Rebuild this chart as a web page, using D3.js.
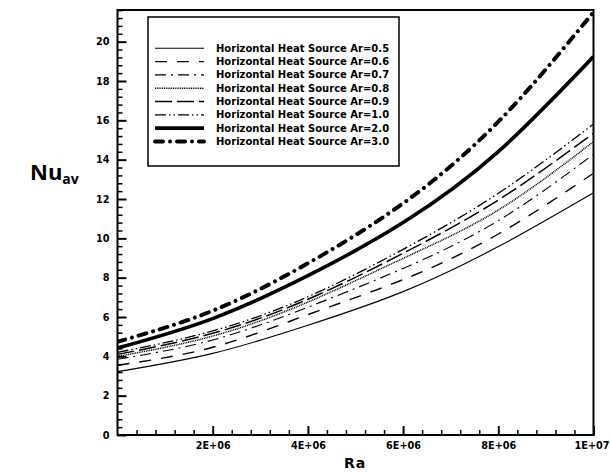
<!DOCTYPE html>
<html>
<head>
<meta charset="utf-8">
<script src="https://cdn.jsdelivr.net/npm/d3@7"></script>
<style>
  html, body { margin: 0; padding: 0; background: #fff; }
  svg { display: block; }
  .tick text { font-family: "DejaVu Sans", sans-serif; font-weight: bold; font-size: 9.7px; fill: #000; }
</style>
</head>
<body>
<svg id="chart" width="610" height="473"></svg>
<script>
// Rayleigh numbers at which the average Nusselt number is sampled
const raValues = [0, 2e6, 4e6, 6e6, 8e6, 1e7];

// Average Nusselt number for each heat-source aspect ratio
const nuAr05 = [3.22, 4.15, 5.58, 7.29, 9.58, 12.32];
const nuAr06 = [3.55, 4.46, 6.12, 7.90, 10.22, 13.31];
const nuAr07 = [3.85, 4.83, 6.50, 8.47, 10.90, 14.27];
const nuAr08 = [4.00, 5.03, 6.76, 8.98, 11.44, 14.92];
const nuAr09 = [4.10, 5.17, 6.90, 9.24, 11.95, 15.34];
const nuAr10 = [4.20, 5.29, 7.03, 9.44, 12.29, 15.81];
const nuAr20 = [4.42, 5.92, 8.10, 10.80, 14.41, 19.24];
const nuAr30 = [4.74, 6.32, 8.73, 11.78, 15.93, 21.50];

const seriesLabels = [
  "Horizontal Heat Source Ar=0.5",
  "Horizontal Heat Source Ar=0.6",
  "Horizontal Heat Source Ar=0.7",
  "Horizontal Heat Source Ar=0.8",
  "Horizontal Heat Source Ar=0.9",
  "Horizontal Heat Source Ar=1.0",
  "Horizontal Heat Source Ar=2.0",
  "Horizontal Heat Source Ar=3.0"
];
const seriesValues = [nuAr05, nuAr06, nuAr07, nuAr08, nuAr09, nuAr10, nuAr20, nuAr30];

const xTickValues = [2e6, 4e6, 6e6, 8e6, 1e7];
const xTickLabels = ["2E+06", "4E+06", "6E+06", "8E+06", "1E+07"];
const yTickValues = [0, 2, 4, 6, 8, 10, 12, 14, 16, 18, 20];

// Line styles, one per series
const styles = [
  { w: 1.1, dash: null, cap: "butt" },
  { w: 1.4, dash: "12,10", cap: "butt" },
  { w: 1.1, dash: "11,5,2,5", cap: "butt" },
  { w: 1.5, dash: "1,0.8", cap: "butt" },
  { w: 1.5, dash: "17,5", cap: "butt" },
  { w: 1.3, dash: "11,3,1.5,3,1.5,3", cap: "butt" },
  { w: 3.6, dash: null, cap: "butt" },
  { w: 4.0, dash: "8,7,0.01,7", cap: "round" }
];

const svg = d3.select("#chart");
const plotLeft = 117.5, plotRight = 593.5, plotTop = 10, plotBottom = 435;

const x = d3.scaleLinear().domain([0, 1e7]).range([plotLeft, plotRight]);
const y = d3.scaleLinear().domain([0, 21.61]).range([plotBottom, plotTop]);

// Minor ticks
const yMinor = d3.range(0, 21.61 + 1e-9, 0.4).map(v => +v.toFixed(2)).filter(v => Math.abs(v / 2 - Math.round(v / 2)) > 1e-6);
const xMinor = d3.range(0, 1e7 + 1, 4e5).filter(v => v % 2e6 !== 0);

svg.append("g")
  .attr("transform", `translate(${plotLeft},0)`)
  .call(d3.axisLeft(y).tickValues(yMinor).tickSize(-5).tickFormat(""))
  .call(g => g.select(".domain").remove())
  .call(g => g.selectAll("line").attr("stroke", "#000").attr("stroke-width", 1.5));

svg.append("g")
  .attr("transform", `translate(${plotLeft},0)`)
  .call(d3.axisLeft(y).tickValues(yTickValues).tickSize(-9).tickPadding(8).tickFormat(d3.format("d")))
  .call(g => g.select(".domain").remove())
  .call(g => g.selectAll("line").attr("stroke", "#000").attr("stroke-width", 2));

svg.append("g")
  .attr("transform", `translate(0,${plotBottom})`)
  .call(d3.axisBottom(x).tickValues(xMinor).tickSize(-5).tickFormat(""))
  .call(g => g.select(".domain").remove())
  .call(g => g.selectAll("line").attr("stroke", "#000").attr("stroke-width", 1.5));

svg.append("g")
  .attr("transform", `translate(0,${plotBottom})`)
  .call(d3.axisBottom(x).tickValues(xTickValues).tickSize(-9).tickPadding(7)
    .tickFormat((d, i) => xTickLabels[i]))
  .call(g => g.select(".domain").remove())
  .call(g => g.selectAll("line").attr("stroke", "#000").attr("stroke-width", 2))
  // the last label sits against the right edge of the page
  .call(g => g.selectAll(".tick").filter(d => d === 1e7).select("text")
    .attr("text-anchor", "end").attr("x", 609 - plotRight));

// Curves
const line = d3.line()
  .x((d, i) => x(raValues[i]))
  .y(d => y(d))
  .curve(d3.curveNatural);

const plot = svg.append("g");
plot.append("clipPath").attr("id", "clip")
  .append("rect").attr("x", plotLeft).attr("y", plotTop)
  .attr("width", plotRight - plotLeft).attr("height", plotBottom - plotTop);

seriesValues.forEach((vals, i) => {
  const s = styles[i];
  plot.append("path")
    .attr("d", line(vals))
    .attr("fill", "none")
    .attr("stroke", "#000")
    .attr("stroke-width", s.w)
    .attr("stroke-dasharray", s.dash)
    .attr("stroke-linecap", s.cap)
    .attr("clip-path", "url(#clip)");
});

// Plot frame
svg.append("rect")
  .attr("x", plotLeft).attr("y", plotTop)
  .attr("width", plotRight - plotLeft).attr("height", plotBottom - plotTop)
  .attr("fill", "none").attr("stroke", "#000").attr("stroke-width", 2);

// Legend
const legend = svg.append("g");
legend.append("rect")
  .attr("x", 148).attr("y", 17).attr("width", 251).attr("height", 149)
  .attr("fill", "#fff").attr("stroke", "#000").attr("stroke-width", 1.5);

seriesLabels.forEach((label, i) => {
  const s = styles[i];
  const ly = 48.3 + i * 13.3;
  legend.append("line")
    .attr("x1", 155).attr("x2", 204).attr("y1", ly).attr("y2", ly)
    .attr("stroke", "#000")
    .attr("stroke-width", s.w)
    .attr("stroke-dasharray", s.dash)
    .attr("stroke-linecap", s.cap);
  legend.append("text")
    .attr("x", 216).attr("y", ly)
    .attr("dy", "0.35em")
    .attr("font-family", "DejaVu Sans, sans-serif")
    .attr("font-weight", "bold")
    .attr("font-size", "10px")
    .text(label);
});

// Axis titles
svg.append("text")
  .attr("x", 355).attr("y", 468)
  .attr("text-anchor", "middle")
  .attr("font-family", "DejaVu Sans, sans-serif")
  .attr("font-weight", "bold")
  .attr("font-size", "14px")
  .attr("letter-spacing", "1px")
  .text("Ra");

const nu = svg.append("text")
  .attr("x", 30).attr("y", 180)
  .attr("font-family", "Open Sans, sans-serif")
  .attr("font-weight", "bold")
  .attr("font-size", "22px");
nu.append("tspan").text("Nu");
nu.append("tspan").attr("dy", 4).attr("font-size", "14px").text("av");
</script>
</body>
</html>
